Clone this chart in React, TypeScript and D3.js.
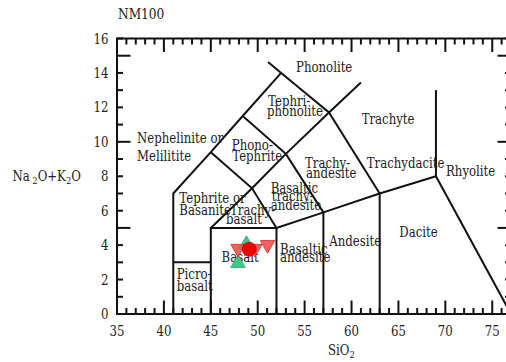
import React from 'react';
import * as d3 from 'd3';

const title = 'NM100';
const xTickLabels = [35, 40, 45, 50, 55, 60, 65, 70, 75];
const yTickLabels = [0, 2, 4, 6, 8, 10, 12, 14, 16];
const xMinor = d3.range(35, 78, 1);
const yMinor = d3.range(0, 17, 1);

const boundaries: [number, number][][] = [
  [[41, 0], [41, 7], [45, 9.4], [48.4, 11.5], [52.5, 14]],
  [[51.1, 14.63], [52.5, 14], [57.6, 11.7], [63, 7]],
  [[41, 3], [45, 3]],
  [[45, 0], [45, 5], [52, 5], [57, 5.9], [63, 7], [69, 8], [77, 0]],
  [[52, 0], [52, 5]],
  [[57, 0], [57, 5.9]],
  [[63, 0], [63, 7]],
  [[69, 8], [69, 13]],
  [[45, 5], [49.4, 7.3], [53, 9.3], [57.6, 11.7], [61, 13.45]],
  [[45, 9.4], [49.4, 7.3], [52, 5]],
  [[48.4, 11.5], [53, 9.3], [57, 5.9]],
];

const fieldLabels = [
  { lines: ['Phonolite'], x: 54.08, y: 14.05, gap: 0, shift: [0] },
  { lines: ['Tephri-', 'phonolite'], x: 51.1, y: 12.08, gap: 10, shift: [0, -1] },
  { lines: ['Trachyte'], x: 61.08, y: 11.03, gap: 0, shift: [0] },
  { lines: ['Phono-', 'Tephrite'], x: 47.23, y: 9.52, gap: 11, shift: [0, 0.5] },
  { lines: ['Trachy-', 'andesite'], x: 55.04, y: 8.48, gap: 10, shift: [0, 1] },
  { lines: ['Trachydacite'], x: 61.62, y: 8.48, gap: 0, shift: [0] },
  { lines: ['Rhyolite'], x: 70.07, y: 8.01, gap: 0, shift: [0] },
  { lines: ['Nephelinite or', 'Melilitite'], x: 37.13, y: 9.93, gap: 17.5, shift: [0, 0] },
  { lines: ['Tephrite or', 'Basanite'], x: 41.64, y: 6.45, gap: 12, shift: [0, 0] },
  { lines: ['Trachy-', 'basalt'], x: 47.05, y: 5.75, gap: 9, shift: [0, -4] },
  { lines: ['Basaltic', 'trachy-', 'andesite'], x: 51.38, y: 7.03, gap: 8.5, shift: [0, 1, 0] },
  { lines: ['Basaltic', 'andesite'], x: 52.38, y: 3.48, gap: 8, shift: [0, 0] },
  { lines: ['Andesite'], x: 57.63, y: 3.95, gap: 0, shift: [0] },
  { lines: ['Dacite'], x: 65.09, y: 4.47, gap: 0, shift: [0] },
  { lines: ['Basalt'], x: 46.14, y: 3.02, gap: 0, shift: [0] },
  { lines: ['Picro-', 'basalt'], x: 41.36, y: 2.03, gap: 12, shift: [0, 0] },
];

const greenUp = [
  { x: 48.8, y: 4.05 },
  { x: 47.9, y: 2.95 },
];
const redDown = [
  { x: 47.9, y: 3.8 },
  { x: 49.7, y: 3.8 },
  { x: 51.05, y: 4.02 },
];
const redCircle = [{ x: 49.1, y: 3.76 }];

const W = 506;
const H = 362;
const FONT = 'DejaVu Serif';
const SX = 0.84;

function Label(props: { x: number; y: number; size: number; anchor?: string; children: React.ReactNode }) {
  return (
    <text
      transform={`translate(${props.x},${props.y}) scale(${SX},1)`}
      fontSize={props.size}
      fill="#222"
      fontFamily={FONT}
      textAnchor={props.anchor || 'start'}
    >
      {props.children}
    </text>
  );
}

export default function App() {
  const x = d3.scaleLinear().domain([35, 77]).range([117, 511]);
  const y = d3.scaleLinear().domain([0, 16]).range([314, 38.5]);
  const line = d3
    .line<[number, number]>()
    .x((d) => x(d[0]))
    .y((d) => y(d[1]));
  const tri = d3.symbol(d3.symbolTriangle, 92)() as string;

  const x0 = x(35), x1 = x(77), y0 = y(0), y1 = y(16);
  const major = 13.5, minor = 6;

  const tickLines: [number, number, number, number][] = [];
  xMinor.forEach((v) => {
    const len = v % 5 === 0 ? major : minor;
    tickLines.push([x(v), y0, x(v), y0 - len]);
    tickLines.push([x(v), y1, x(v), y1 + len]);
  });
  yMinor.forEach((v) => {
    const len = v % 5 === 0 ? major : minor;
    tickLines.push([x0, y(v), x0 + len, y(v)]);
    tickLines.push([x1, y(v), x1 - len, y(v)]);
  });

  return (
    <div style={{ position: 'absolute', left: 0, top: 0, width: W, height: H }}>
      <svg width={W} height={H} style={{ display: 'block' }}>
        <rect x={0} y={0} width={W} height={H} fill="#fff" />
        {tickLines.map((t, i) => (
          <line key={'t' + i} x1={t[0]} y1={t[1]} x2={t[2]} y2={t[3]} stroke="#111" strokeWidth={2} />
        ))}
        {boundaries.map((b, i) => (
          <path key={'b' + i} d={line(b) as string} fill="none" stroke="#111" strokeWidth={2} />
        ))}
        <rect x={x0} y={y1} width={x1 - x0} height={y0 - y1} fill="none" stroke="#111" strokeWidth={2} />

        <Label x={118} y={18.5} size={14.5}>{title}</Label>
        {xTickLabels.map((v) => (
          <Label key={'xl' + v} x={x(v)} y={336} size={14} anchor="middle">{v}</Label>
        ))}
        {yTickLabels.map((v) => (
          <Label key={'yl' + v} x={108.5} y={y(v) + 5} size={14} anchor="end">{v}</Label>
        ))}
        <Label x={12.5} y={181} size={14}>
          Na<tspan dx={3} fontSize={10} dy={3}>2</tspan>
          <tspan dy={-3}>O+K</tspan>
          <tspan fontSize={10} dy={3}>2</tspan>
          <tspan dy={-3}>O</tspan>
        </Label>
        <Label x={328} y={355} size={14}>
          SiO<tspan fontSize={10} dy={3}>2</tspan>
        </Label>

        {fieldLabels.map((f, i) => (
          <g key={'f' + i}>
            {f.lines.map((t, j) => (
              <Label key={j} x={x(f.x) + f.shift[j]} y={y(f.y) + j * f.gap} size={14}>{t}</Label>
            ))}
          </g>
        ))}

        {greenUp.map((d, i) => (
          <path key={'g' + i} d={tri} transform={`translate(${x(d.x)},${y(d.y)})`} fill="#3fcc8a" stroke="#2b9d68" strokeWidth={0.8} />
        ))}
        {redDown.map((d, i) => (
          <path key={'r' + i} d={tri} transform={`translate(${x(d.x)},${y(d.y)}) rotate(180)`} fill="#f05050" fillOpacity={0.9} stroke="#cc3030" strokeWidth={0.8} />
        ))}
        {redCircle.map((d, i) => (
          <circle key={'c' + i} cx={x(d.x)} cy={y(d.y)} r={7} fill="#f20000" stroke="#d00000" strokeWidth={0.8} />
        ))}
      </svg>
    </div>
  );
}
